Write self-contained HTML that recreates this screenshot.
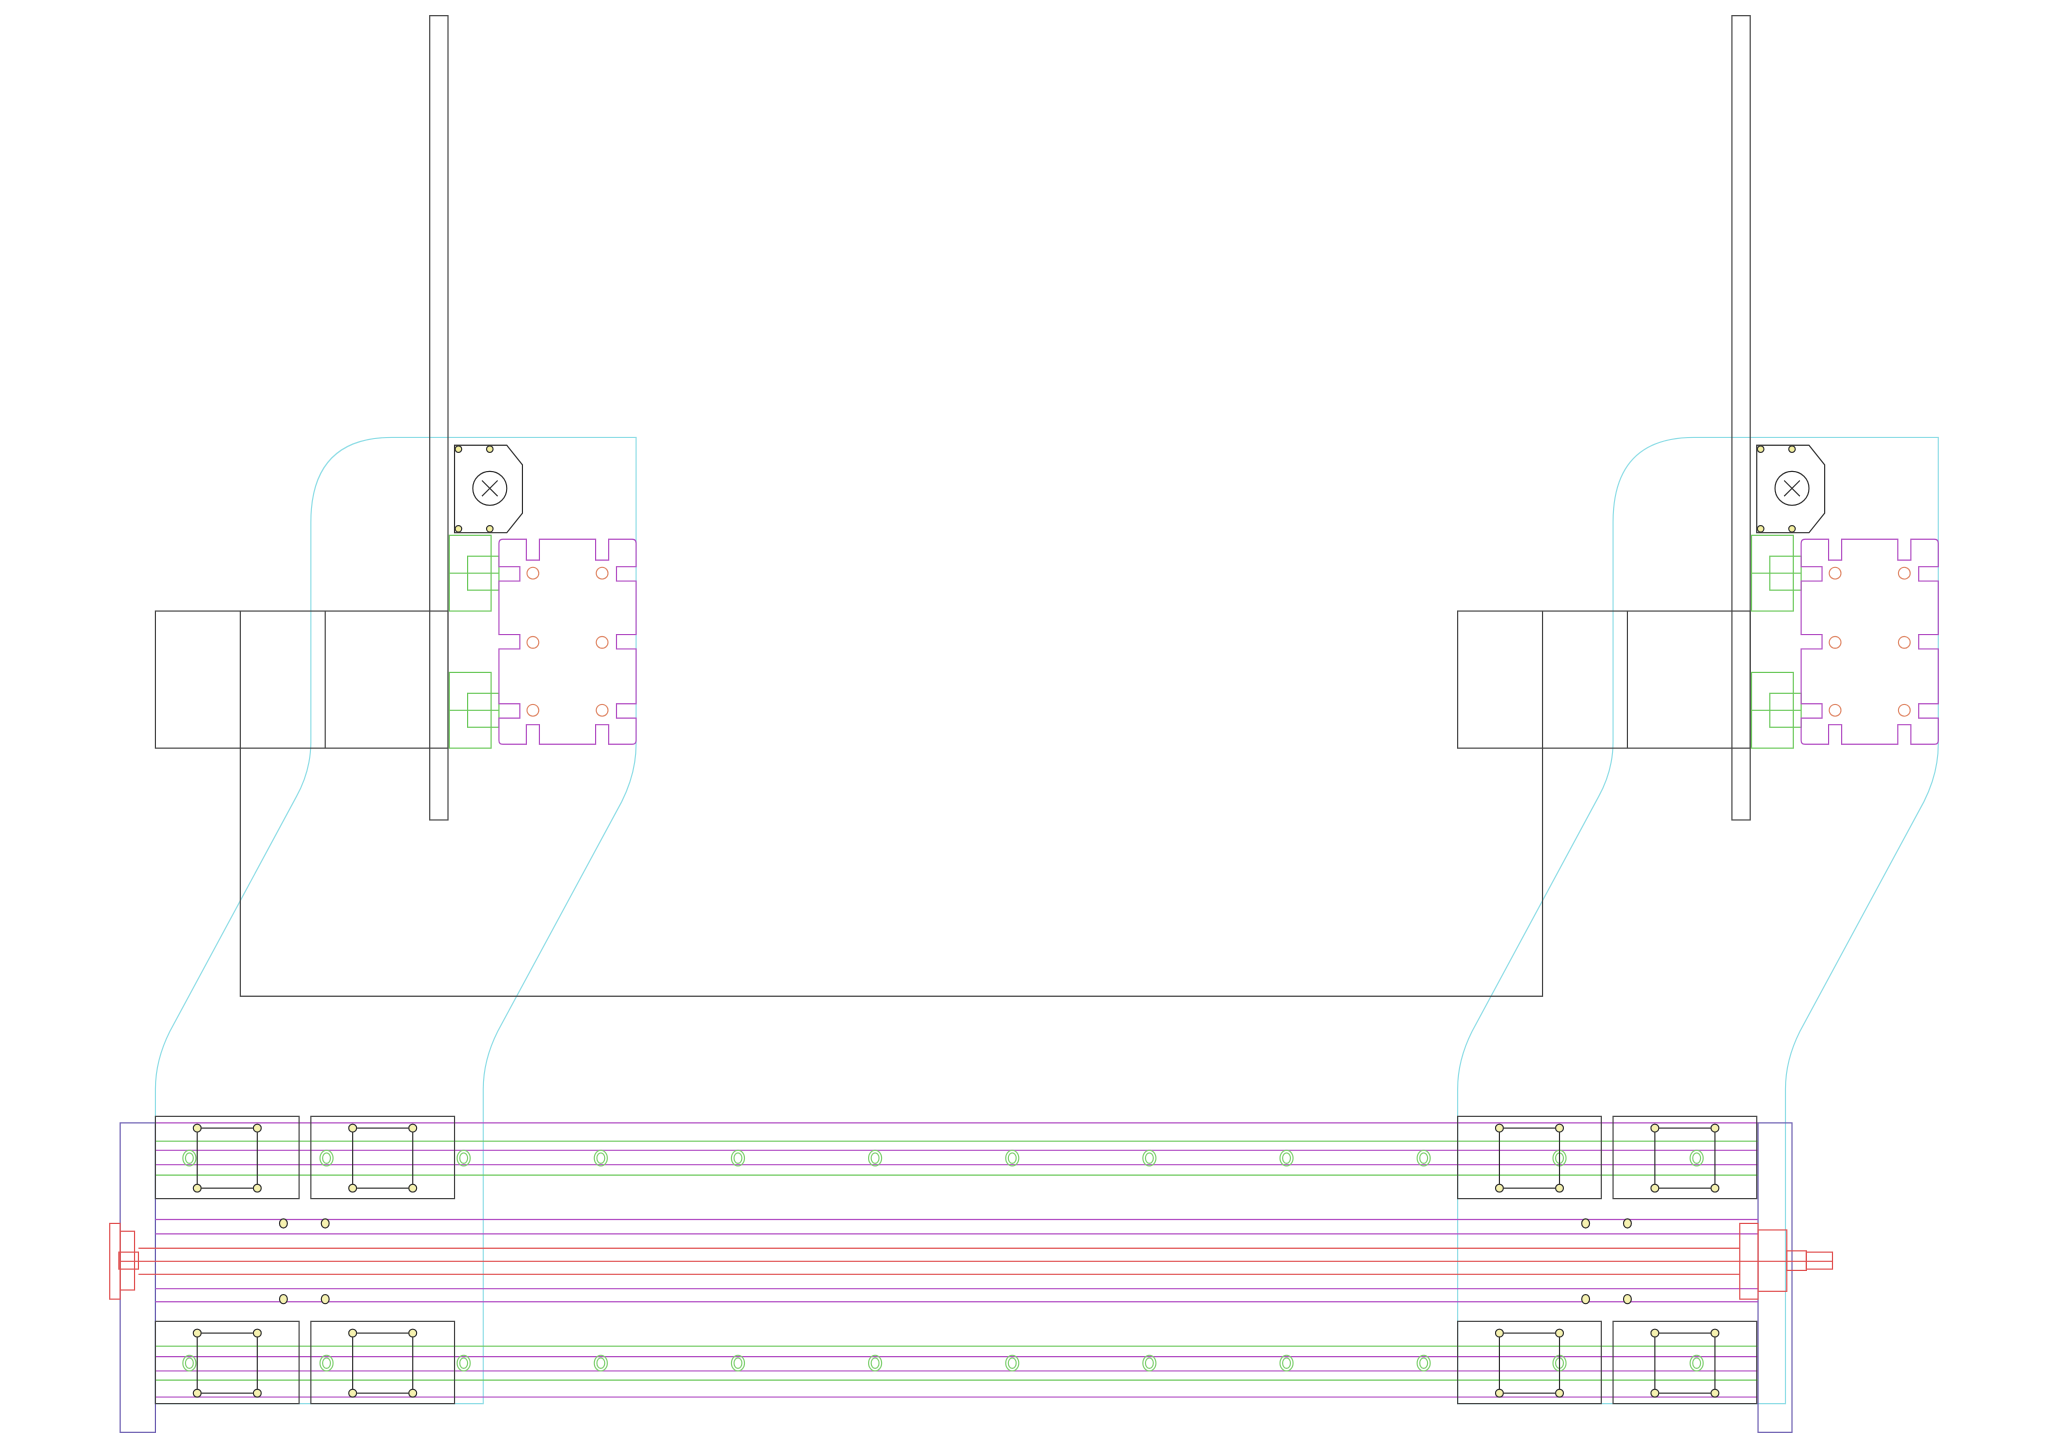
<!DOCTYPE html>
<html><head><meta charset="utf-8"><style>html,body{margin:0;padding:0;background:#fff}svg{display:block}</style></head>
<body>
<svg width="2048" height="1448" viewBox="0 0 1568 1109" preserveAspectRatio="none" xmlns="http://www.w3.org/2000/svg" fill="none" stroke-width="0.9">
<defs>
<g id="mp">
  <!-- cyan outline -->
  <path stroke="#8fdde6" d="M300,335 L487,335 L487,570 Q487,592 476,614 L381,790 Q370,812 370,834 L370,1075 L119,1075 L119,834 Q119,812 130,790 L227,610 Q238,590 238,568 L238,400 Q238,335 300,335 Z"/>
  <!-- vertical bar -->
  <rect x="329" y="12" width="14" height="616" stroke="#444"/>
  <!-- motor box -->
  <rect x="119" y="468" width="224" height="105" stroke="#444"/>
  <line x1="184" y1="468" x2="184" y2="573" stroke="#444"/>
  <line x1="249" y1="468" x2="249" y2="573" stroke="#444"/>
  <!-- stepper plate -->
  <path stroke="#333" d="M348,341 L388,341 L400,356 L400,393 L388,408 L348,408 Z"/>
  <circle cx="375" cy="374" r="13" stroke="#333"/>
  <path stroke="#333" d="M369,368 L381,380 M381,368 L369,380"/>
  <g stroke="#333" fill="#f4f0a0"><circle cx="351" cy="344" r="2.5"/><circle cx="375" cy="344" r="2.5"/><circle cx="351" cy="405" r="2.5"/><circle cx="375" cy="405" r="2.5"/></g>
  <!-- green -->
  <g stroke="#6cc95c">
    <rect x="344" y="410" width="32" height="58"/>
    <rect x="358" y="426" width="24" height="26"/>
    <line x1="344" y1="439" x2="382" y2="439"/>
    <rect x="344" y="515" width="32" height="58"/>
    <rect x="358" y="531" width="24" height="26"/>
    <line x1="344" y1="544" x2="382" y2="544"/>
  </g>
  <!-- purple plate -->
  <path stroke="#b24fc4" d="M382,416 Q382,413 385,413 L403,413 L403,429 L413,429 L413,413 L456,413 L456,429 L466,429 L466,413 L484,413 Q487,413 487,416 L487,434 L472,434 L472,445 L487,445 L487,486 L472,486 L472,497 L487,497 L487,539 L472,539 L472,550 L487,550 L487,567 Q487,570 484,570 L466,570 L466,555 L456,555 L456,570 L413,570 L413,555 L403,555 L403,570 L385,570 Q382,570 382,567 L382,550 L398,550 L398,539 L382,539 L382,497 L398,497 L398,486 L382,486 L382,445 L398,445 L398,434 L382,434 Z"/>
  <g stroke="#e08a6a"><circle cx="408" cy="439" r="4.5"/><circle cx="461" cy="439" r="4.5"/><circle cx="408" cy="492" r="4.5"/><circle cx="461" cy="492" r="4.5"/><circle cx="408" cy="544" r="4.5"/><circle cx="461" cy="544" r="4.5"/></g>
</g>
<g id="box">
  <rect x="119" y="855" width="110" height="63" stroke="#444"/>
  <rect x="151" y="864" width="46" height="46" stroke="#333"/>
  <g stroke="#333" fill="#f6f2b0"><circle cx="151" cy="864" r="3"/><circle cx="197" cy="864" r="3"/><circle cx="151" cy="910" r="3"/><circle cx="197" cy="910" r="3"/></g>
</g>
<g id="gc"><ellipse cx="0" cy="0" rx="5" ry="6" stroke="#7fd070"/><ellipse cx="0" cy="0" rx="3" ry="4" stroke="#7fd070"/></g>
</defs>

<use href="#mp"/>
<use href="#mp" x="997"/>
<!-- lower motor connector -->
<path stroke="#444" d="M184,573 L184,763 L1181,763 L1181,573"/>

<!-- frames -->
<rect x="92" y="860" width="27" height="237" stroke="#6a5cb0"/>
<rect x="1346" y="860" width="26" height="237" stroke="#6a5cb0"/>

<!-- rails lines -->
<g stroke="#b24fc4">
  <line x1="119" y1="860" x2="1346" y2="860"/>
  <line x1="119" y1="881" x2="1346" y2="881"/>
  <line x1="119" y1="892" x2="1346" y2="892"/>
  <line x1="119" y1="934" x2="1346" y2="934"/>
  <line x1="119" y1="945" x2="1346" y2="945"/>
  <line x1="119" y1="987" x2="1346" y2="987"/>
  <line x1="119" y1="997" x2="1346" y2="997"/>
  <line x1="119" y1="1039" x2="1346" y2="1039"/>
  <line x1="119" y1="1050" x2="1346" y2="1050"/>
  <line x1="119" y1="1070" x2="1346" y2="1070"/>
</g>
<g stroke="#6cc95c">
  <line x1="119" y1="874" x2="1346" y2="874"/>
  <line x1="119" y1="900" x2="1346" y2="900"/>
  <line x1="119" y1="1031" x2="1346" y2="1031"/>
  <line x1="119" y1="1057" x2="1346" y2="1057"/>
</g>
<g stroke="#e05050">
  <line x1="106" y1="956" x2="1332" y2="956"/>
  <line x1="92" y1="966" x2="1403" y2="966"/>
  <line x1="106" y1="976" x2="1332" y2="976"/>
  <rect x="84" y="937" width="8" height="58"/>
  <rect x="92" y="943" width="11" height="45"/>
  <rect x="91" y="959" width="15" height="13"/>
  <rect x="1332" y="937" width="14" height="58"/>
  <rect x="1346" y="942" width="22" height="47"/>
  <rect x="1368" y="958" width="15" height="15"/>
  <rect x="1383" y="959" width="20" height="13"/>
</g>
<!-- holes middle -->
<g stroke="#333" fill="#f6f2b0">
  <ellipse cx="217" cy="937" rx="3" ry="3.5"/><ellipse cx="249" cy="937" rx="3" ry="3.5"/>
  <ellipse cx="217" cy="995" rx="3" ry="3.5"/><ellipse cx="249" cy="995" rx="3" ry="3.5"/>
  <ellipse cx="1214" cy="937" rx="3" ry="3.5"/><ellipse cx="1246" cy="937" rx="3" ry="3.5"/>
  <ellipse cx="1214" cy="995" rx="3" ry="3.5"/><ellipse cx="1246" cy="995" rx="3" ry="3.5"/>
</g>
<!-- green circles -->
<g>
  <use href="#gc" x="145" y="887"/><use href="#gc" x="250" y="887"/><use href="#gc" x="355" y="887"/><use href="#gc" x="460" y="887"/><use href="#gc" x="565" y="887"/><use href="#gc" x="670" y="887"/><use href="#gc" x="775" y="887"/><use href="#gc" x="880" y="887"/><use href="#gc" x="985" y="887"/><use href="#gc" x="1090" y="887"/><use href="#gc" x="1194" y="887"/><use href="#gc" x="1299" y="887"/>
  <use href="#gc" x="145" y="1044"/><use href="#gc" x="250" y="1044"/><use href="#gc" x="355" y="1044"/><use href="#gc" x="460" y="1044"/><use href="#gc" x="565" y="1044"/><use href="#gc" x="670" y="1044"/><use href="#gc" x="775" y="1044"/><use href="#gc" x="880" y="1044"/><use href="#gc" x="985" y="1044"/><use href="#gc" x="1090" y="1044"/><use href="#gc" x="1194" y="1044"/><use href="#gc" x="1299" y="1044"/>
</g>
<!-- carriage boxes -->
<use href="#box"/><use href="#box" x="119"/><use href="#box" x="997"/><use href="#box" x="1116"/>
<use href="#box" y="157"/><use href="#box" x="119" y="157"/><use href="#box" x="997" y="157"/><use href="#box" x="1116" y="157"/>
</svg>
</body></html>
